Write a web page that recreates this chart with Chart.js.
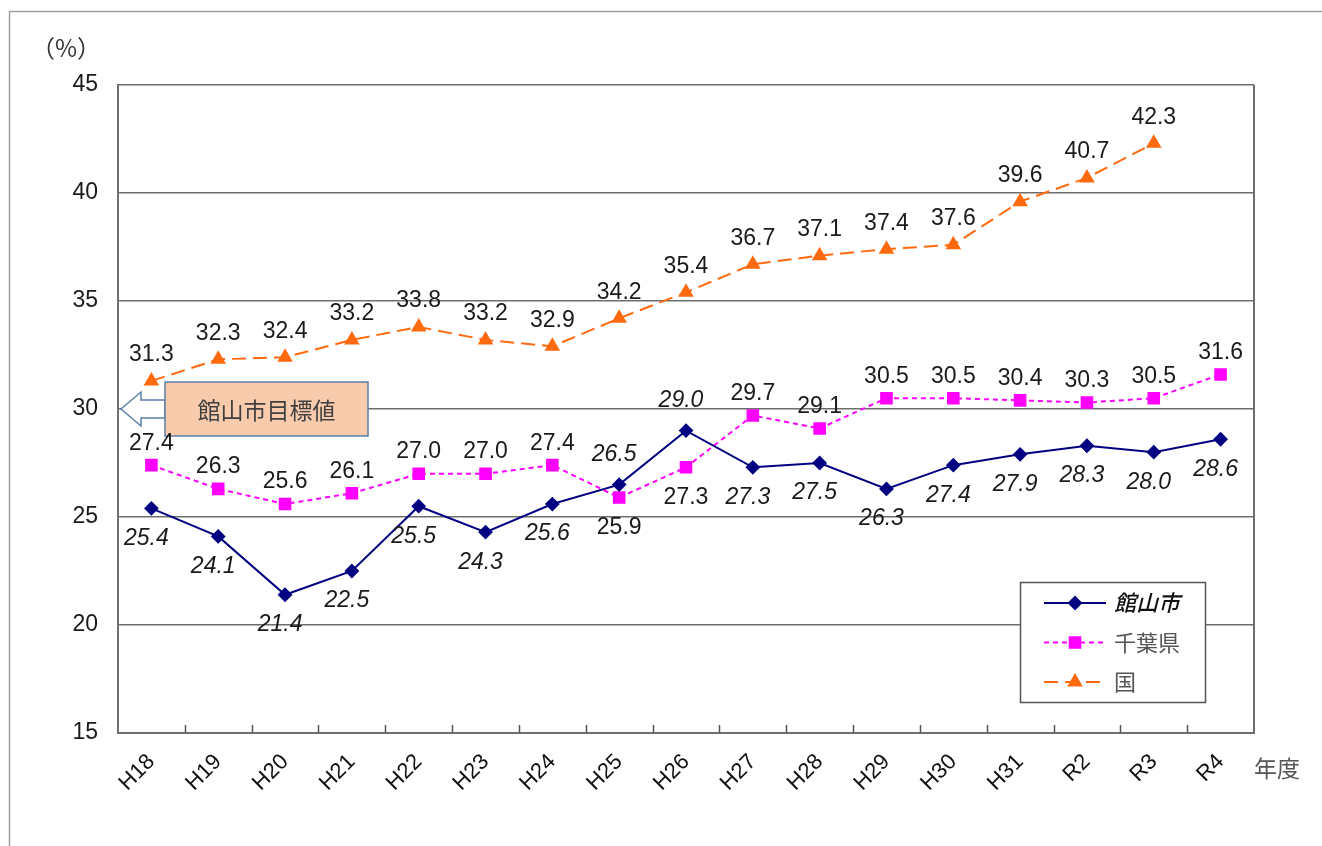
<!DOCTYPE html>
<html lang="ja">
<head>
<meta charset="utf-8">
<title>館山市 推移</title>
<script src="https://cdn.jsdelivr.net/npm/chart.js@4.4.1/dist/chart.umd.min.js"></script>
<style>
  html, body { margin: 0; padding: 0; background: #fff; }
  #wrap { width: 1322px; height: 846px; }
</style>
</head>
<body>
<div id="wrap"><canvas id="chart" width="1322" height="846"></canvas></div>
<script>
// 年度
const years = ['H18', 'H19', 'H20', 'H21', 'H22', 'H23', 'H24', 'H25', 'H26',
               'H27', 'H28', 'H29', 'H30', 'H31', 'R2', 'R3', 'R4'];
// 各系列の値 (%)
const tateyama = [25.4, 24.1, 21.4, 22.5, 25.5, 24.3, 25.6, 26.5, 29.0,
                  27.3, 27.5, 26.3, 27.4, 27.9, 28.3, 28.0, 28.6];
const chiba = [27.4, 26.3, 25.6, 26.1, 27.0, 27.0, 27.4, 25.9, 27.3,
               29.7, 29.1, 30.5, 30.5, 30.4, 30.3, 30.5, 31.6];
const kuni = [31.3, 32.3, 32.4, 33.2, 33.8, 33.2, 32.9, 34.2, 35.4,
              36.7, 37.1, 37.4, 37.6, 39.6, 40.7, 42.3, null];
// 目標値
const targetValue = 30;
const targetLabel = '館山市目標値';
// 数値ラベルの位置 (a = 上, b = 下)
const tateyamaPos = ['b','b','b','b','b','b','b','a','a','b','b','b','b','b','b','b','b'];
const chibaPos    = ['a','a','a','a','a','a','a','b','b','a','a','a','a','a','a','a','a'];
const kuniPos     = ['a','a','a','a','a','a','a','a','a','a','a','a','a','a','a','a','a'];

const NUM_FONT = '"Liberation Sans", Arial, sans-serif';
const JP_FONT = '"Noto Sans CJK JP", "Noto Sans", sans-serif';

// 数値ラベル・目標値の矢印・凡例・枠線などを描く
const decorPlugin = {
  id: 'decor',
  beforeDraw(chart) {
    const ctx = chart.ctx;
    ctx.save();
    // 外枠
    ctx.strokeStyle = '#a0a0a0';
    ctx.lineWidth = 1.5;
    ctx.beginPath();
    ctx.moveTo(9.5, 846);
    ctx.lineTo(9.5, 11.5);
    ctx.lineTo(1322, 11.5);
    ctx.stroke();
    ctx.restore();
  },
  afterDatasetsDraw(chart) {
    const ctx = chart.ctx;
    const area = chart.chartArea;
    const xs = chart.scales.x;
    const ys = chart.scales.y;
    ctx.save();

    // 右側の枠線
    ctx.strokeStyle = '#6e6e6e';
    ctx.lineWidth = 2;
    ctx.beginPath();
    ctx.moveTo(area.right, area.top);
    ctx.lineTo(area.right, area.bottom);
    ctx.stroke();

    // 内向きの目盛り (区切り位置)
    ctx.lineWidth = 1.5;
    ctx.strokeStyle = '#555';
    for (let i = 1; i < years.length; i++) {
      const x = Math.round((xs.getPixelForValue(i - 1) + xs.getPixelForValue(i)) / 2) + 0.5;
      ctx.beginPath();
      ctx.moveTo(x, area.bottom - 8);
      ctx.lineTo(x, area.bottom);
      ctx.stroke();
    }

    ctx.textAlign = 'center';
    ctx.textBaseline = 'middle';

    // 目標値の矢印
    const ty = ys.getPixelForValue(targetValue);
    const tipX = area.left + 3;
    const bodyL = area.left + 47;
    const bodyR = area.left + 250;
    const h = 27;
    ctx.lineWidth = 1.5;
    ctx.strokeStyle = '#5a7fa6';
    ctx.fillStyle = '#ffffff';
    ctx.beginPath();
    ctx.moveTo(tipX, ty);
    ctx.lineTo(tipX + 20, ty - 17);
    ctx.lineTo(tipX + 20, ty - 9);
    ctx.lineTo(bodyL, ty - 9);
    ctx.lineTo(bodyL, ty + 9);
    ctx.lineTo(tipX + 20, ty + 9);
    ctx.lineTo(tipX + 20, ty + 17);
    ctx.closePath();
    ctx.fill();
    ctx.stroke();
    ctx.fillStyle = '#f8cbad';
    ctx.fillRect(bodyL, ty - h, bodyR - bodyL, 2 * h);
    ctx.strokeRect(bodyL, ty - h, bodyR - bodyL, 2 * h);
    ctx.fillStyle = '#404040';
    ctx.font = '23px ' + JP_FONT;
    ctx.fillText(targetLabel, (bodyL + bodyR) / 2, ty + 1);

    // 数値ラベル
    const posList = [tateyamaPos, chibaPos, kuniPos];
    const aboveGap = [30, 22, 26];
    chart.data.datasets.forEach((ds, di) => {
      const meta = chart.getDatasetMeta(di);
      ctx.font = (di === 0 ? 'italic ' : '') + '23px ' + NUM_FONT;
      ctx.fillStyle = '#1a1a1a';
      meta.data.forEach((pt, i) => {
        const v = ds.data[i];
        if (v === null || v === undefined) return;
        const above = posList[di][i] === 'a';
        const dy = above ? -aboveGap[di] : 30;
        const dx = di === 0 ? -5 : 0;
        ctx.fillText(v.toFixed(1), pt.x + dx, pt.y + dy);
      });
    });

    // 凡例
    const lx = area.right - 234;
    const ly = area.bottom - 151;
    const lw = 185;
    const lh = 120;
    ctx.fillStyle = '#ffffff';
    ctx.fillRect(lx, ly, lw, lh);
    ctx.strokeStyle = '#555';
    ctx.lineWidth = 1.5;
    ctx.strokeRect(lx + 0.5, ly + 0.5, lw, lh);
    chart.data.datasets.forEach((ds, di) => {
      const rowY = ly + 21 + di * 39.5;
      ctx.strokeStyle = ds.borderColor;
      ctx.lineWidth = ds.borderWidth;
      ctx.setLineDash(ds.borderDash || []);
      ctx.beginPath();
      ctx.moveTo(lx + 24, rowY);
      ctx.lineTo(lx + 86, rowY);
      ctx.stroke();
      ctx.setLineDash([]);
      Chart.helpers.drawPoint(ctx, {
        pointStyle: ds.pointStyle,
        radius: ds.pointRadius,
        borderWidth: 1
      }, lx + 55, rowY);
      ctx.fillStyle = ds.pointBackgroundColor;
      ctx.strokeStyle = ds.pointBorderColor;
      ctx.fill();
      ctx.fillStyle = di === 0 ? '#111' : '#555';
      ctx.font = (di === 0 ? 'italic 500 ' : '') + '22px ' + JP_FONT;
      ctx.textAlign = 'left';
      ctx.fillText(ds.label, lx + 94, rowY);
    });

    // 単位・軸タイトル
    ctx.textAlign = 'center';
    ctx.fillStyle = '#333';
    ctx.font = '24px ' + JP_FONT;
    ctx.fillText('（%）', 66, 48);
    ctx.fillStyle = '#555';
    ctx.font = '23px ' + JP_FONT;
    ctx.fillText('年度', 1277, 768);

    ctx.restore();
  }
};

const ctx = document.getElementById('chart').getContext('2d');
new Chart(ctx, {
  type: 'line',
  data: {
    labels: years,
    datasets: [
      {
        label: '館山市',
        data: tateyama,
        borderColor: '#000080',
        backgroundColor: '#000080',
        pointBackgroundColor: '#000080',
        pointBorderColor: '#000080',
        borderWidth: 2,
        pointStyle: 'rectRot',
        pointRadius: 6,
        tension: 0
      },
      {
        label: '千葉県',
        data: chiba,
        borderColor: '#ff00ff',
        backgroundColor: '#ff00ff',
        pointBackgroundColor: '#ff00ff',
        pointBorderColor: '#ff00ff',
        borderWidth: 2,
        borderDash: [5, 4],
        pointStyle: 'rect',
        pointRadius: 7.5,
        tension: 0
      },
      {
        label: '国',
        data: kuni,
        borderColor: '#ff6a0f',
        backgroundColor: '#ff6a0f',
        pointBackgroundColor: '#ff6a0f',
        pointBorderColor: '#ff6a0f',
        borderWidth: 2,
        borderDash: [14, 7],
        pointStyle: 'triangle',
        pointRadius: 7,
        tension: 0
      }
    ]
  },
  options: {
    responsive: false,
    animation: false,
    layout: { padding: { left: 0, top: 85, right: 68, bottom: 0 } },
    plugins: {
      legend: { display: false },
      tooltip: { enabled: false }
    },
    scales: {
      x: {
        offset: true,
        grid: { display: false },
        border: { display: true, color: '#6e6e6e', width: 2 },
        ticks: {
          color: '#111',
          font: { family: NUM_FONT, size: 22 },
          minRotation: 45,
          maxRotation: 45,
          padding: 8
        },
        afterFit(scale) { scale.height = 113; }
      },
      y: {
        min: 15,
        max: 45,
        grid: { color: '#6e6e6e', lineWidth: 1.5, drawTicks: false },
        border: { display: true, color: '#6e6e6e', width: 2 },
        ticks: {
          stepSize: 5,
          color: '#1a1a1a',
          font: { family: NUM_FONT, size: 23 },
          padding: 20
        },
        afterFit(scale) { scale.width = 118; }
      }
    }
  },
  plugins: [decorPlugin]
});
</script>
</body>
</html>
